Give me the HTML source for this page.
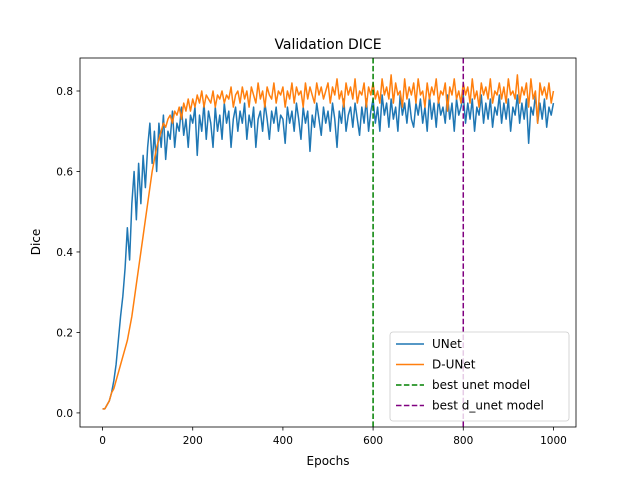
<!DOCTYPE html>
<html><head><meta charset="utf-8"><style>
html,body{margin:0;padding:0;background:#fff;}
svg{display:block;font-family:"DejaVu Sans","Liberation Sans",sans-serif;}
</style></head><body>
<svg id="chart" width="640" height="480">
<text x="328" y="49" font-size="14" text-anchor="middle">Validation DICE</text>
<text x="328" y="465" font-size="12" text-anchor="middle">Epochs</text>
<text x="40" y="242" font-size="12" text-anchor="middle" transform="rotate(-90 40 242)">Dice</text>
<g id="plot"></g>
</svg>
<script>
const epochs = [];
for (let e = 0; e <= 1000; e += 5) epochs.push(e);
const unet = [
0.01,0.01,0.02,0.03,0.05,0.08,0.12,0.18,0.24,0.29,0.36,0.46,0.38,0.52,0.60,0.48,0.62,0.52,0.64,0.56,
0.66,0.72,0.62,0.70,0.60,0.72,0.66,0.74,0.63,0.70,0.68,0.75,0.66,0.72,0.70,0.76,0.69,0.73,0.66,0.74,
0.72,0.76,0.64,0.74,0.70,0.77,0.68,0.75,0.72,0.66,0.76,0.70,0.74,0.68,0.77,0.72,0.75,0.66,0.73,0.76,
0.70,0.75,0.72,0.77,0.68,0.74,0.71,0.76,0.66,0.73,0.75,0.70,0.77,0.73,0.68,0.75,0.72,0.76,0.70,0.74,
0.73,0.67,0.76,0.72,0.75,0.70,0.77,0.73,0.68,0.76,0.72,0.75,0.65,0.74,0.71,0.77,0.73,0.69,0.76,0.72,
0.75,0.70,0.77,0.73,0.66,0.75,0.72,0.78,0.70,0.74,0.76,0.71,0.77,0.73,0.69,0.76,0.72,0.78,0.70,0.75,
0.78,0.72,0.76,0.70,0.79,0.74,0.77,0.71,0.78,0.73,0.76,0.70,0.79,0.74,0.77,0.72,0.78,0.73,0.71,0.77,
0.74,0.78,0.72,0.76,0.70,0.79,0.73,0.77,0.71,0.78,0.74,0.76,0.72,0.79,0.73,0.77,0.70,0.78,0.74,0.76,
0.79,0.72,0.77,0.73,0.78,0.70,0.76,0.74,0.79,0.72,0.77,0.73,0.78,0.71,0.76,0.74,0.79,0.72,0.77,0.73,
0.78,0.70,0.76,0.74,0.79,0.72,0.77,0.73,0.78,0.67,0.76,0.74,0.79,0.72,0.77,0.73,0.78,0.71,0.76,0.74,
0.77];
const dunet = [
0.01,0.01,0.02,0.03,0.05,0.06,0.08,0.10,0.12,0.14,0.16,0.18,0.21,0.24,0.28,0.32,0.36,0.40,0.44,0.48,
0.52,0.56,0.60,0.63,0.66,0.68,0.70,0.72,0.71,0.73,0.74,0.72,0.75,0.74,0.76,0.73,0.77,0.75,0.78,0.75,
0.78,0.76,0.79,0.77,0.80,0.76,0.79,0.78,0.77,0.80,0.76,0.79,0.78,0.80,0.77,0.79,0.78,0.81,0.76,0.79,
0.80,0.77,0.81,0.78,0.80,0.76,0.81,0.79,0.77,0.82,0.78,0.80,0.76,0.81,0.79,0.78,0.82,0.77,0.80,0.79,
0.81,0.76,0.80,0.78,0.82,0.77,0.81,0.79,0.80,0.76,0.82,0.78,0.81,0.79,0.77,0.82,0.79,0.81,0.78,0.80,
0.82,0.77,0.81,0.79,0.83,0.78,0.80,0.76,0.82,0.79,0.81,0.78,0.83,0.77,0.80,0.79,0.82,0.76,0.81,0.79,
0.82,0.78,0.80,0.77,0.83,0.79,0.81,0.78,0.84,0.77,0.82,0.79,0.80,0.76,0.83,0.78,0.81,0.79,0.82,0.77,
0.83,0.79,0.80,0.76,0.82,0.78,0.81,0.79,0.83,0.77,0.80,0.79,0.82,0.75,0.81,0.79,0.83,0.78,0.80,0.77,
0.82,0.79,0.81,0.77,0.83,0.78,0.80,0.76,0.82,0.79,0.81,0.78,0.83,0.77,0.80,0.79,0.82,0.78,0.81,0.77,
0.83,0.79,0.80,0.78,0.84,0.77,0.81,0.79,0.82,0.76,0.83,0.78,0.80,0.72,0.82,0.79,0.81,0.78,0.82,0.77,
0.80];
const xTicks = [0,200,400,600,800,1000];
const yTicks = [0.0,0.2,0.4,0.6,0.8];
const yTickLabels = ["0.0","0.2","0.4","0.6","0.8"];
const bestUnet = 600;
const bestDunet = 800;

const L=80,R=576,T=58,B=427;
const xMin=-50,xMax=1050,yMin=-0.035,yMax=0.882;
const xs=v=>L+(v-xMin)/(xMax-xMin)*(R-L);
const ys=v=>B-(v-yMin)/(yMax-yMin)*(B-T);
const NS="http://www.w3.org/2000/svg";
const plot=document.getElementById('plot');
function mk(tag,attrs,parent){const el=document.createElementNS(NS,tag);for(const k in attrs)el.setAttribute(k,attrs[k]);(parent||plot).appendChild(el);return el;}

function series(data,color,name){
  const d=data.map((v,i)=>(i?'L':'M')+xs(epochs[i]).toFixed(2)+' '+ys(v).toFixed(2)).join(' ');
  const p=mk('path',{d:d,fill:'none',stroke:color,'stroke-width':1.5,'stroke-linejoin':'round'});
  
  
}
series(unet,'#1f77b4','unet-line');
series(dunet,'#ff7f0e','d-unet-line');

const v1=mk('line',{x1:xs(bestUnet),x2:xs(bestUnet),y1:T,y2:B,stroke:'green','stroke-width':1.5,'stroke-dasharray':'5.5,2.4'});


const v2=mk('line',{x1:xs(bestDunet),x2:xs(bestDunet),y1:T,y2:B,stroke:'purple','stroke-width':1.5,'stroke-dasharray':'5.5,2.4'});



const frame=mk('rect',{x:L,y:T,width:R-L,height:B-T,fill:'none',stroke:'#000','stroke-width':0.8});



xTicks.forEach(t=>{
  const x=xs(t);
  mk('line',{x1:x,x2:x,y1:B,y2:B+3.5,stroke:'#000','stroke-width':0.8});
  const tx=mk('text',{x:x,y:B+17,'font-size':10.5,'text-anchor':'middle'});
  tx.textContent=t;
  
  
});
yTicks.forEach((t,i)=>{
  const y=ys(t);
  mk('line',{x1:L-3.5,x2:L,y1:y,y2:y,stroke:'#000','stroke-width':0.8});
  const tx=mk('text',{x:L-7,y:y+4,'font-size':10.5,'text-anchor':'end'});
  tx.textContent=yTickLabels[i];
  
  
});

const lg=mk('g',{});


mk('rect',{x:390,y:332,width:179,height:89,rx:3,fill:'#fff','fill-opacity':0.8,stroke:'#ccc','stroke-width':0.8},lg);
const entries=[['UNet','#1f77b4',''],['D-UNet','#ff7f0e',''],['best unet model','green','5.5,2.4'],['best d_unet model','purple','5.5,2.4']];
entries.forEach((e,i)=>{
  const y=344+i*20.5;
  const ln=mk('line',{x1:396,x2:424,y1:y,y2:y,stroke:e[1],'stroke-width':1.5},lg);
  if(e[2])ln.setAttribute('stroke-dasharray',e[2]);
  const tx=mk('text',{x:432,y:y+4,'font-size':12},lg);
  tx.textContent=e[0];
  
  
});
</script>
</body></html>
